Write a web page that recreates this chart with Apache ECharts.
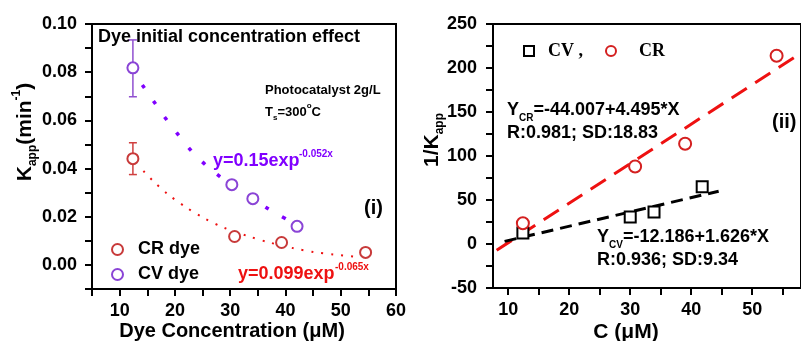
<!DOCTYPE html>
<html>
<head>
<meta charset="utf-8">
<script src="https://cdn.jsdelivr.net/npm/echarts@6/dist/echarts.min.js"></script>
</head>
<body style="margin:0">
<div id="chart" style="width:801px;height:341px"></div>
<script>
// ---------- Data ----------
// Panel (i): apparent rate constant vs dye concentration
const crConc = [12.4, 30.8, 39.3, 54.5];
const crK = [0.0441, 0.0118, 0.0093, 0.0052];
const crKLow = [0.0375, 0.0108, 0.0085, 0.0045];
const crKHigh = [0.0507, 0.0128, 0.0101, 0.0059];
const cvConc = [12.4, 30.3, 34.1, 42.1];
const cvK = [0.0818, 0.0333, 0.0275, 0.0160];
const cvKLow = [0.0698, 0.0322, 0.0264, 0.0150];
const cvKHigh = [0.0934, 0.0344, 0.0286, 0.0170];
// fitted exponential curves
const cvCurveX = [14.1, 16.1, 18.1, 20.3, 22.8, 25.5, 28.1, 31.0, 36.5, 39.0, 42.1];
const cvCurveY = [0.0747, 0.0681, 0.0615, 0.0549, 0.0478, 0.0416, 0.0367, 0.0317, 0.0238, 0.0205, 0.0164];
const crCurveX = [14.3, 15.9, 18.8, 22.1, 25.2, 28.8, 33.7, 36.8, 41.5, 45.2, 48.8, 53.2];
const crCurveY = [0.0390, 0.0352, 0.0292, 0.0238, 0.0195, 0.0155, 0.0116, 0.0095, 0.0069, 0.0053, 0.0043, 0.0033];
// Panel (ii): 1/Kapp vs C
const invCrC = [12.4, 30.8, 39.0, 54.0];
const invCrVal = [23.5, 88, 114, 214];
const invCvC = [12.4, 30.0, 33.9, 41.8];
const invCvVal = [12.5, 30.7, 36.5, 65];
const crLineX = [8.1, 58];
const crLineY = [-7, 217];
const cvLineX = [9.4, 44.5];
const cvLineY = [3, 60];
// tick labels
const leftXLabels = [10, 20, 30, 40, 50, 60];
const rightXLabels = [10, 20, 30, 40, 50];
const rightXTicks = [10, 15, 20, 25, 30, 35, 40, 45, 50, 55];

const zip = (a, b) => a.map((v, i) => [v, b[i]]);
const zip3 = (a, b, c) => a.map((v, i) => [v, b[i], c[i]]);

const FONT = "'Liberation Sans', Arial, sans-serif";
const SERIF = "'Liberation Serif', 'Times New Roman', serif";
const PURPLE = '#8000ff';
const CV_MARK = '#8a44d6';
const CR_MARK = '#c83a3a';

function axisCommon() {
  return {
    axisLine: { show: true, onZero: false, lineStyle: { color: '#000', width: 2 } },
    axisTick: { show: true, inside: false, length: 7, lineStyle: { color: '#000', width: 2 } },
    axisLabel: { color: '#000', fontFamily: FONT, fontWeight: 'bold', fontSize: 18 },
    splitLine: { show: false }
  };
}

function errRender(color) {
  return function (params, api) {
    const x = api.value(0);
    const lo = api.coord([x, api.value(1)]);
    const hi = api.coord([x, api.value(2)]);
    const st = { stroke: color, lineWidth: 1.5 };
    return {
      type: 'group',
      children: [
        { type: 'line', shape: { x1: lo[0], y1: lo[1], x2: hi[0], y2: hi[1] }, style: st },
        { type: 'line', shape: { x1: lo[0] - 4, y1: lo[1], x2: lo[0] + 4, y2: lo[1] }, style: st },
        { type: 'line', shape: { x1: hi[0] - 4, y1: hi[1], x2: hi[0] + 4, y2: hi[1] }, style: st }
      ]
    };
  };
}

const chart = echarts.init(document.getElementById('chart'));

const xL = axisCommon();
const yL = axisCommon();
const xR = axisCommon();
const yR = axisCommon();

const richSub = (size) => ({ fontFamily: FONT, fontWeight: 'bold', fontSize: size, color: '#000', fill: '#000', lineHeight: size, verticalAlign: 'bottom' });
const richSup = (size) => ({ fontFamily: FONT, fontWeight: 'bold', fontSize: size, color: '#000', fill: '#000', lineHeight: size, verticalAlign: 'top' });
const richMain = (size, lh) => ({ fontFamily: FONT, fontWeight: 'bold', fontSize: size, color: '#000', fill: '#000', lineHeight: lh });

const option = {
  animation: false,
  backgroundColor: '#fff',
  grid: [
    { left: 92, top: 24, width: 304, height: 265, show: true, borderColor: '#000', borderWidth: 2, backgroundColor: 'transparent' },
    { left: 493, top: 24, width: 320, height: 264, show: true, borderColor: '#000', borderWidth: 2, backgroundColor: 'transparent' }
  ],
  xAxis: [
    Object.assign(xL, {
      type: 'value', gridIndex: 0, min: 5, max: 60, interval: 5,
      axisLabel: Object.assign(xL.axisLabel, { margin: 13, formatter: v => (leftXLabels.indexOf(v) >= 0 ? String(v) : '') })
    }),
    Object.assign(xR, {
      type: 'value', gridIndex: 1, min: 7.5, max: 58,
      axisTick: Object.assign(xR.axisTick, { customValues: rightXTicks }),
      axisLabel: Object.assign(xR.axisLabel, { margin: 13, customValues: rightXLabels })
    })
  ],
  yAxis: [
    Object.assign(yL, {
      type: 'value', gridIndex: 0, min: -0.01, max: 0.10, interval: 0.01,
      axisLabel: Object.assign(yL.axisLabel, { margin: 15, formatter: v => { const r = Math.round(v * 100); return (r >= 0 && r % 2 === 0) ? (r / 100).toFixed(2) : ''; } })
    }),
    Object.assign(yR, {
      type: 'value', gridIndex: 1, min: -50, max: 250, interval: 25,
      axisLabel: Object.assign(yR.axisLabel, { margin: 16, formatter: v => (Math.round(v) % 50 === 0 ? String(v) : '') })
    })
  ],
  legend: [
    {
      data: ['CR dye', 'CV dye'], orient: 'vertical', left: 106, top: 234,
      itemWidth: 11, itemHeight: 11, itemGap: 4,
      formatter: n => '  ' + n,
      textStyle: { fontFamily: FONT, fontWeight: 'bold', fontSize: 18, color: '#000', lineHeight: 21 }
    },
    {
      data: ['CV', 'CR'], orient: 'horizontal', left: 518, top: 37,
      itemWidth: 10, itemHeight: 10, itemGap: 22,
      formatter: n => (n === 'CV' ? '  CV ,' : '    CR'),
      textStyle: { fontFamily: SERIF, fontWeight: 'bold', fontSize: 18, color: '#000' }
    }
  ],
  series: [
    // Panel (i) fit curves
    { name: 'CV fit', type: 'line', xAxisIndex: 0, yAxisIndex: 0, data: zip(cvCurveX, cvCurveY), smooth: 0.3, showSymbol: false, silent: true,
      lineStyle: { color: PURPLE, width: 3.5, type: [4, 15.5] }, z: 2 },
    { name: 'CR fit', type: 'line', xAxisIndex: 0, yAxisIndex: 0, data: zip(crCurveX, crCurveY), smooth: 0.3, showSymbol: false, silent: true,
      lineStyle: { color: '#ee1111', width: 2, type: [2, 8] }, z: 2 },
    // error bars
    { name: 'CR err', type: 'custom', xAxisIndex: 0, yAxisIndex: 0, data: zip3(crConc, crKLow, crKHigh), renderItem: errRender('#d04040'), z: 3, silent: true },
    { name: 'CV err', type: 'custom', xAxisIndex: 0, yAxisIndex: 0, data: zip3(cvConc, cvKLow, cvKHigh), renderItem: errRender('#9050d0'), z: 3, silent: true },
    // markers
    { name: 'CR dye', type: 'scatter', xAxisIndex: 0, yAxisIndex: 0, data: zip(crConc, crK), symbol: 'emptyCircle', symbolSize: 11,
      itemStyle: { color: CR_MARK, borderColor: CR_MARK, borderWidth: 1.3, opacity: 1 }, z: 4 },
    { name: 'CV dye', type: 'scatter', xAxisIndex: 0, yAxisIndex: 0, data: zip(cvConc, cvK), symbol: 'emptyCircle', symbolSize: 11,
      itemStyle: { color: CV_MARK, borderColor: CV_MARK, borderWidth: 1.3, opacity: 1 }, z: 4 },
    // Panel (ii) linear fits
    { name: 'CR line', type: 'line', xAxisIndex: 1, yAxisIndex: 1, data: zip(crLineX, crLineY), showSymbol: false, silent: true,
      lineStyle: { color: '#ee1111', width: 3, type: [18, 10] }, z: 2 },
    { name: 'CV line', type: 'line', xAxisIndex: 1, yAxisIndex: 1, data: zip(cvLineX, cvLineY), showSymbol: false, silent: true,
      lineStyle: { color: '#000', width: 3, type: [12, 7] }, z: 2 },
    { name: 'CV', type: 'scatter', xAxisIndex: 1, yAxisIndex: 1, data: zip(invCvC, invCvVal), symbol: 'emptyRect', symbolSize: 11,
      itemStyle: { color: '#000', borderColor: '#000', borderWidth: 1.3, opacity: 1 }, z: 4 },
    { name: 'CR', type: 'scatter', xAxisIndex: 1, yAxisIndex: 1, data: zip(invCrC, invCrVal), symbol: 'emptyCircle', symbolSize: 12,
      itemStyle: { color: '#d42020', borderColor: '#d42020', borderWidth: 1.3, opacity: 1 }, z: 4 }
  ],
  graphic: [
    // annotations panel (i)
    { type: 'text', x: 98, y: 37, style: { text: 'Dye initial concentration effect', fill: '#000', font: 'bold 18px ' + FONT, align: 'left', verticalAlign: 'middle' } },
    { type: 'text', x: 265, y: 90, style: { text: 'Photocatalyst 2g/L', fill: '#000', font: 'bold 13px ' + FONT, align: 'left', verticalAlign: 'middle' } },
    { type: 'text', x: 265, y: 112, style: { text: '{m|T}{s|s}{m|=300}{u|o}{m|C}', align: 'left', verticalAlign: 'middle',
      rich: { m: richMain(13, 20), s: richSub(8), u: richSup(8) } } },
    { type: 'text', x: 364, y: 208, style: { text: '(i)', fill: '#000', font: 'bold 20px ' + FONT, align: 'left', verticalAlign: 'middle' } },
    { type: 'text', x: 213, y: 161, style: { text: 'y=0.15exp', fill: PURPLE, font: 'bold 18px ' + FONT, align: 'left', verticalAlign: 'middle' } },
    { type: 'text', x: 299, y: 154, style: { text: '-0.052x', fill: PURPLE, font: 'bold 10px ' + FONT, align: 'left', verticalAlign: 'middle' } },
    { type: 'text', x: 238, y: 274, style: { text: 'y=0.099exp', fill: '#ee1111', font: 'bold 18px ' + FONT, align: 'left', verticalAlign: 'middle' } },
    { type: 'text', x: 335, y: 267, style: { text: '-0.065x', fill: '#ee1111', font: 'bold 10px ' + FONT, align: 'left', verticalAlign: 'middle' } },
    // axis titles panel (i)
    { type: 'text', x: 232, y: 331, style: { text: 'Dye Concentration (\u03bcM)', fill: '#000', font: 'bold 20px ' + FONT, align: 'center', verticalAlign: 'middle' } },
    { type: 'text', x: 25, y: 132, rotation: Math.PI / 2, style: { text: '{m|K}{s|app}{m|(min}{u|-1}{m|)}', align: 'center', verticalAlign: 'middle',
      rich: { m: richMain(21, 28), s: richSub(12), u: richSup(12) } } },
    // annotations panel (ii)
    { type: 'text', x: 507, y: 110, style: { text: '{m|Y}{s|CR}{m|=-44.007+4.495*X}', align: 'left', verticalAlign: 'middle',
      rich: { m: richMain(18, 26), s: richSub(10) } } },
    { type: 'text', x: 507, y: 133, style: { text: 'R:0.981; SD:18.83', fill: '#000', font: 'bold 18px ' + FONT, align: 'left', verticalAlign: 'middle' } },
    { type: 'text', x: 772, y: 122, style: { text: '(ii)', fill: '#000', font: 'bold 20px ' + FONT, align: 'left', verticalAlign: 'middle' } },
    { type: 'text', x: 597, y: 237, style: { text: '{m|Y}{s|CV}{m|=-12.186+1.626*X}', align: 'left', verticalAlign: 'middle',
      rich: { m: richMain(18, 26), s: richSub(10) } } },
    { type: 'text', x: 597, y: 260, style: { text: 'R:0.936; SD:9.34', fill: '#000', font: 'bold 18px ' + FONT, align: 'left', verticalAlign: 'middle' } },
    // axis titles panel (ii)
    { type: 'text', x: 626, y: 332, style: { text: 'C (\u03bcM)', fill: '#000', font: 'bold 21px ' + FONT, align: 'center', verticalAlign: 'middle' } },
    { type: 'text', x: 432, y: 140, rotation: Math.PI / 2, style: { text: '{m|1/K}{s|app}', align: 'center', verticalAlign: 'middle',
      rich: { m: richMain(21, 28), s: richSub(12) } } }
  ]
};
chart.setOption(option);
</script>
</body>
</html>
